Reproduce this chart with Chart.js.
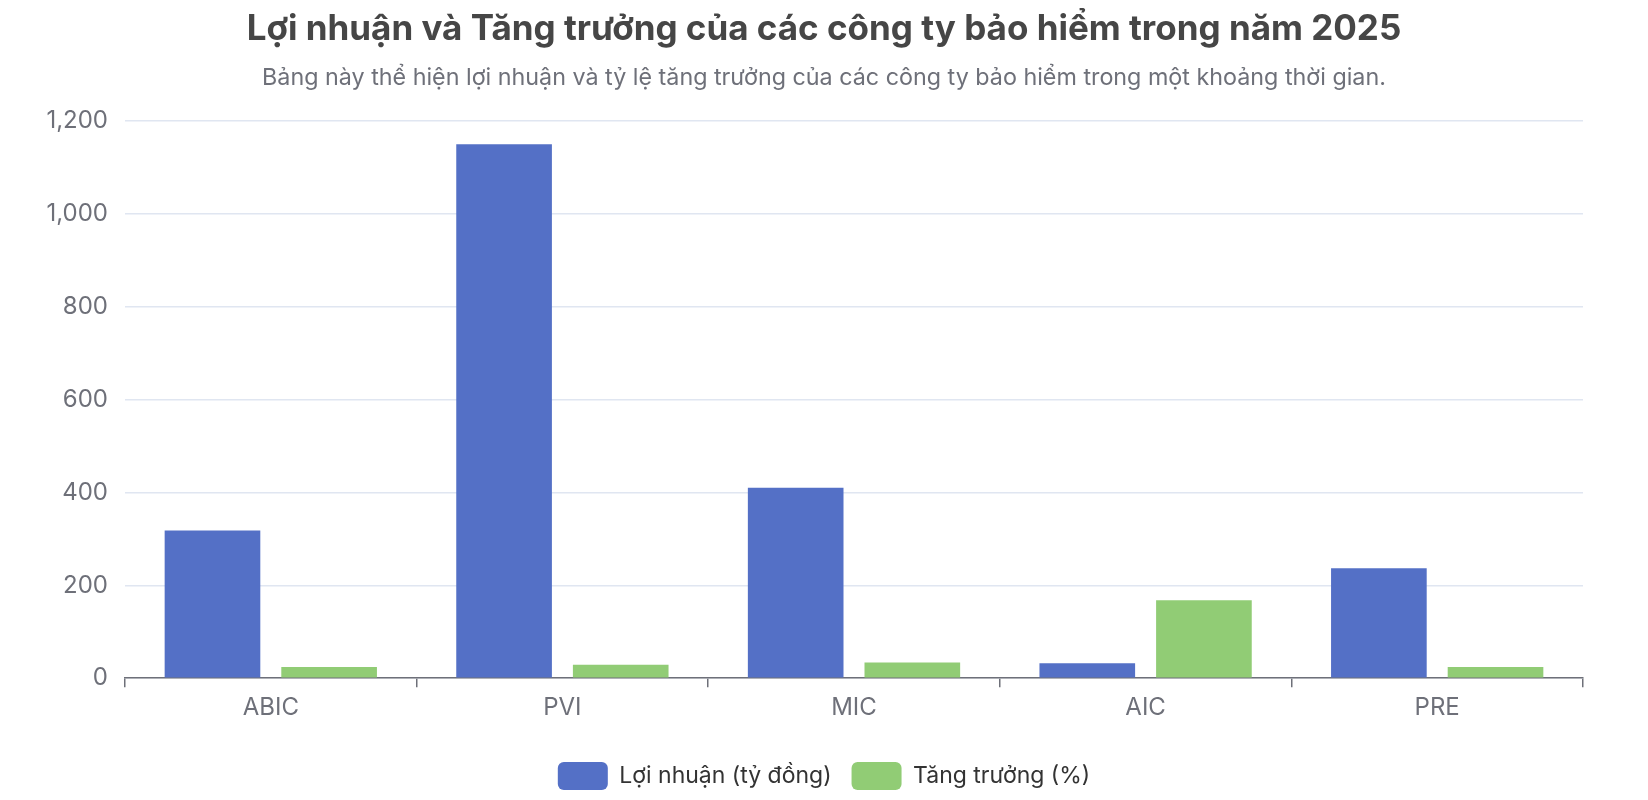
<!DOCTYPE html>
<html>
<head>
<meta charset="utf-8">
<script src="https://cdn.jsdelivr.net/npm/chart.js@4.4.1/dist/chart.umd.min.js"></script>
<style>
  body { margin: 0; background: #fff; }
  #wrap { width: 1648px; height: 800px; }
</style>
</head>
<body>
<div id="wrap"><canvas id="chart" width="1648" height="800"></canvas></div>
<script>
const companies = ['ABIC', 'PVI', 'MIC', 'AIC', 'PRE'];
const profit = [318, 1150, 410, 32, 237];
const growth = [24, 29, 34, 168, 24];
const yTicks = [0, 200, 400, 600, 800, 1000, 1200];

const FONT = 'Inter, "Noto Sans", sans-serif';

const ctx = document.getElementById('chart').getContext('2d');
const chart = new Chart(ctx, {
  type: 'bar',
  data: {
    labels: companies,
    datasets: [
      { label: 'Lợi nhuận (tỷ đồng)', data: profit, backgroundColor: '#5470C6' },
      { label: 'Tăng trưởng (%)', data: growth, backgroundColor: '#91CC75' }
    ]
  },
  options: {
    responsive: false,
    devicePixelRatio: 1,
    animation: false,
    categoryPercentage: 0.8,
    barPercentage: 0.82,
    layout: { padding: 0 },
    plugins: {
      title: {
        display: true,
        text: 'Lợi nhuận và Tăng trưởng của các công ty bảo hiểm trong năm 2025',
        color: '#464646',
        font: { family: FONT, size: 35, weight: 'bold' },
        padding: { top: 8, bottom: 0 }
      },
      subtitle: {
        display: true,
        text: 'Bảng này thể hiện lợi nhuận và tỷ lệ tăng trưởng của các công ty bảo hiểm trong một khoảng thời gian.',
        color: '#6E7079',
        font: { family: FONT, size: 23.3 },
        padding: { top: 14, bottom: 29 }
      },
      legend: {
        position: 'bottom',
        labels: {
          color: '#333',
          font: { family: FONT, size: 23 },
          boxWidth: 50,
          boxHeight: 28,
          useBorderRadius: true,
          borderRadius: 6,
          padding: 20
        }
      },
      tooltip: { enabled: false }
    },
    scales: {
      x: {
        grid: { drawOnChartArea: false, drawTicks: true, tickLength: 9, color: '#6E7079', lineWidth: 1.5, offset: true },
        border: { color: '#6E7079', width: 1.5 },
        ticks: { color: '#6E7079', font: { family: FONT, size: 24 }, padding: 6 },
        afterFit: axis => { axis.height += 14; }
      },
      y: {
        min: yTicks[0],
        max: yTicks[yTicks.length - 1],
        afterBuildTicks: axis => { axis.ticks = yTicks.map(v => ({ value: v })); },
        afterFit: axis => { axis.width = 125; },
        grid: { color: '#E0E6F1', lineWidth: 1.5, drawTicks: false },
        border: { display: false },
        ticks: {
          color: '#6E7079',
          font: { family: FONT, size: 24 },
          padding: 17,
          callback: v => v.toLocaleString('en-US')
        }
      },
      // empty right-hand axis, only keeps the right margin so title and legend stay centred
      yRight: {
        type: 'linear',
        position: 'right',
        grid: { display: false },
        ticks: { display: false },
        border: { display: false },
        afterFit: axis => { axis.width = 65; }
      }
    }
  }
});
</script>
</body>
</html>
